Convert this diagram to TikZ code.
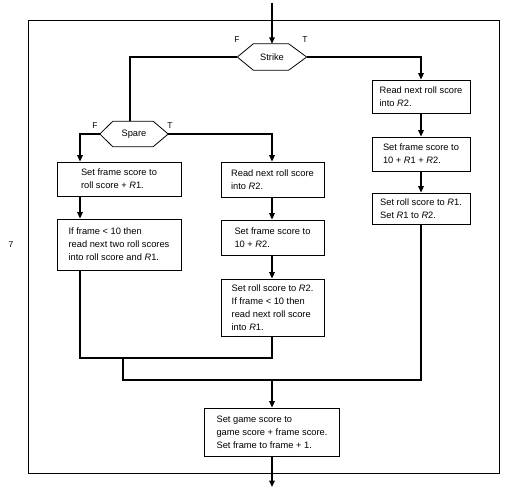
\documentclass[tikz,border=0pt]{standalone}
\usepackage{fontspec}
\setmainfont{Liberation Sans}
\usetikzlibrary{arrows.meta,calc}
\begin{document}
\begin{tikzpicture}[x=1pt,y=-1pt,
  txt/.style={font=\fontsize{9.3}{12.9}\selectfont},
  box/.style={txt,draw=black,line width=0.8pt,align=left,inner sep=0pt},
  hexlab/.style={txt,draw=none,inner sep=0pt},
  hexline/.style={draw=black,line width=0.8pt},
  lab/.style={font=\fontsize{8.5}{10}\selectfont,inner sep=0pt},
  flow/.style={draw=black,line width=1.6pt},
  arr/.style={-{Triangle[length=6.5pt,width=5.5pt]}},
  framebox/.style={draw=black,line width=0.7pt,inner sep=0pt}
]
\useasboundingbox (0,0) rectangle (508,497);
\node[framebox,minimum width=471pt,minimum height=453pt] (frame) at (263.5,246.5) {};
\node[lab] (seven) at (11,245) {7};

% decisions
\node[hexlab,minimum width=69pt,minimum height=26pt] (strike) at (272,57) {Strike};
\draw[hexline] (strike.west) -- ([xshift=16pt]strike.north west) -- ([xshift=-18pt]strike.north east) -- (strike.east) -- ([xshift=-18pt]strike.south east) -- ([xshift=16pt]strike.south west) -- cycle;
\node[hexlab,minimum width=68pt,minimum height=25pt] (spare) at (134,134) {Spare};
\draw[hexline] (spare.west) -- ([xshift=13pt]spare.north west) -- ([xshift=-15pt]spare.north east) -- (spare.east) -- ([xshift=-15pt]spare.south east) -- ([xshift=13pt]spare.south west) -- cycle;

\node[lab] (sf) at (237,40) {F};
\node[lab] (st) at (305,40) {T};
\node[lab] (pf) at (95,126) {F};
\node[lab] (pt) at (170,126) {T};

% right column
\node[box,minimum width=98pt,minimum height=33pt] (R1) at (421,96.5) {Read next roll score\\into \textit{R}2.};
\node[box,minimum width=98pt,minimum height=34pt] (R2) at (421,154) {Set frame score to\\10 + \textit{R}1 + \textit{R}2.};
\node[box,minimum width=98pt,minimum height=31pt] (R3) at (421,208.5) {Set roll score to \textit{R}1.\\Set \textit{R}1 to \textit{R}2.};

% left column
\node[box,minimum width=124pt,minimum height=34pt] (L1) at (119,179) {Set frame score to\\roll score + \textit{R}1.};
\node[box,minimum width=124pt,minimum height=51pt] (L2) at (119,244.5) {If frame < 10 then\\read next two roll scores\\into roll score and \textit{R}1.};

% middle column
\node[box,minimum width=103pt,minimum height=35pt] (M1) at (272.5,179.5) {Read next roll score\\into \textit{R}2.};
\node[box,minimum width=103pt,minimum height=35pt] (M2) at (272.5,237.5) {Set frame score to\\10 + \textit{R}2.};
\node[box,minimum width=103pt,minimum height=57pt] (M3) at (272.5,307.5) {Set roll score to \textit{R}2.\\If frame < 10 then\\read next roll score\\into \textit{R}1.};

% bottom
\node[box,minimum width=135pt,minimum height=48pt] (B) at (272,432) {Set game score to\\game score + frame score.\\Set frame to frame + 1.};

\coordinate (top) at (272,3);
\coordinate (bot) at (272,487);
\coordinate (lx) at (80,0);
\coordinate (mx) at (272,0);
\coordinate (sx) at (130,0);
\coordinate (j1) at (272,358);
\coordinate (j2) at (123,358);
\coordinate (j3) at (272,380);

\draw[flow,arr] (top) -- (strike.north -| mx);
\draw[flow] (strike.west) -| (spare.north -| sx);
\draw[flow,arr] (strike.east) -| (R1.north);
\draw[flow,arr] (R1) -- (R2);
\draw[flow,arr] (R2) -- (R3);
\draw[flow,arr] (spare.west) -| (L1.north -| lx);
\draw[flow,arr] (L1.south -| lx) -- (L2.north -| lx);
\draw[flow,arr] (spare.east) -| (M1.north -| mx);
\draw[flow,arr] (M1.south -| mx) -- (M2.north -| mx);
\draw[flow,arr] (M2.south -| mx) -- (M3.north -| mx);
\draw[flow] (L2.south -| lx) |- (j1) -- (M3.south -| mx);
\draw[flow] (j2) |- (R3.south |- j3) -- (R3.south);
\draw[flow,arr] (j3) -- (B.north);
\draw[flow,arr] (B.south) -- (bot);
\end{tikzpicture}
\end{document}
